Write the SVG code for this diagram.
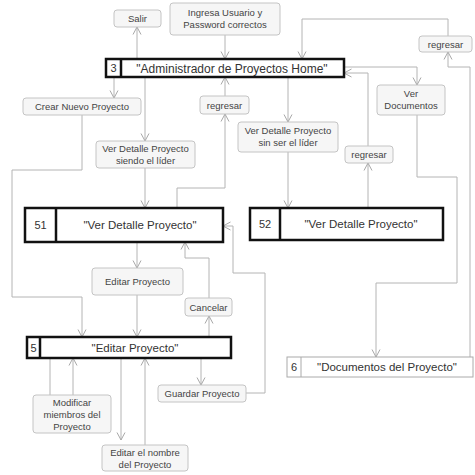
<svg xmlns="http://www.w3.org/2000/svg" width="475" height="475" viewBox="0 0 475 475">
<defs>
<marker id="ar" markerWidth="10" markerHeight="10" refX="9" refY="5" orient="auto" markerUnits="userSpaceOnUse">
<path d="M1.5,1 L9,5 L1.5,9" fill="none" stroke="#a8a8a8" stroke-width="1"/>
</marker>
<style>
.c{fill:none;stroke:#b4b4b4;stroke-width:1}
.c.a{marker-end:url(#ar)}
.act{fill:#f6f6f6;stroke:#c4c4c4;stroke-width:1}
.at{font-family:"Liberation Sans",Arial,sans-serif;font-size:9.5px;fill:#444;text-anchor:middle}
.st{fill:#fff;stroke:#111;stroke-width:2.5}
.sd{stroke:#111;stroke-width:2.5}
.nt{font-family:"Liberation Sans",Arial,sans-serif;font-size:11.5px;fill:#333;text-anchor:middle}
.num{font-family:"Liberation Sans",Arial,sans-serif;font-size:11px;fill:#333;text-anchor:middle}
</style>
</defs>
<rect width="475" height="475" fill="#fff"/>
<g id="connectors">
<path class="c a" d="M225,35 V59"/>
<path class="c a" d="M137,59 V27"/>
<path class="c a" d="M114,77 V98"/>
<path class="c a" d="M145,77 V141"/>
<path class="c a" d="M145,168 V208"/>
<path class="c a" d="M177,208 V188 H225 V114"/>
<path class="c a" d="M225,96 V77"/>
<path class="c a" d="M288,77 V122"/>
<path class="c a" d="M288,152 V208"/>
<path class="c a" d="M368,208 V163"/>
<path class="c a" d="M368,146 V73 H344"/>
<path class="c a" d="M344,67 H417 V85"/>
<path class="c a" d="M417,115 V177 H457 V283 H376 V357"/>
<path class="c a" d="M470,357 V67 H448 V52"/>
<path class="c a" d="M448,36 V19 H302 V59"/>
<path class="c a" d="M246,393 H265 V273 H233 V226 H223"/>
<path class="c a" d="M209,298 V258 H185 V242"/>
<path class="c a" d="M209,337 V316"/>
<path class="c a" d="M137,242 V268"/>
<path class="c a" d="M137,295 V337"/>
<path class="c a" d="M82,115 V170 H12 V297 H82 V337"/>
<path class="c" d="M50,358 V395"/>
<path class="c a" d="M73,395 V358"/>
<path class="c a" d="M121,358 V440"/>
<path class="c a" d="M145,445 V358"/>
<path class="c a" d="M201,358 V385"/>
</g>
<g id="salir"><rect class="act" x="114" y="10" width="47" height="17" rx="3"/><text class="at" x="137.5" y="22">Salir</text></g>
<g id="ingresa"><rect class="act" x="170" y="3" width="110" height="32" rx="3"/><text class="at" x="225" y="16">Ingresa Usuario y</text><text class="at" x="225" y="28">Password correctos</text></g>
<g id="regresar1"><rect class="act" x="419" y="36" width="53" height="16" rx="3"/><text class="at" x="445.5" y="47.5">regresar</text></g>
<g id="node3"><rect class="st" x="106" y="59" width="238" height="18"/><line class="sd" x1="121" y1="59" x2="121" y2="77"/><text class="num" x="113.5" y="72">3</text><text class="nt" x="232" y="72.5" style="font-size:12px">"Administrador de Proyectos Home"</text></g>
<g id="crear"><rect class="act" x="23" y="98" width="118" height="17" rx="3"/><text class="at" x="82" y="110">Crear Nuevo Proyecto</text></g>
<g id="regresar2"><rect class="act" x="200" y="96" width="49" height="18" rx="3"/><text class="at" x="224.5" y="108.5">regresar</text></g>
<g id="verdocs"><rect class="act" x="377" y="85" width="68" height="30" rx="3"/><text class="at" x="411" y="97">Ver</text><text class="at" x="411" y="109">Documentos</text></g>
<g id="verlider"><rect class="act" x="96" y="141" width="99" height="27" rx="3"/><text class="at" x="145.5" y="152">Ver Detalle Proyecto</text><text class="at" x="145.5" y="164">siendo el líder</text></g>
<g id="versinlider"><rect class="act" x="238" y="122" width="100" height="30" rx="3"/><text class="at" x="288" y="134">Ver Detalle Proyecto</text><text class="at" x="288" y="146">sin ser el líder</text></g>
<g id="regresar3"><rect class="act" x="345" y="146" width="48" height="17" rx="3"/><text class="at" x="369" y="158">regresar</text></g>
<g id="node51"><rect class="st" x="25" y="208" width="198" height="34"/><line class="sd" x1="56" y1="208" x2="56" y2="242"/><text class="num" x="40.5" y="229">51</text><text class="nt" x="140" y="229">"Ver Detalle Proyecto"</text></g>
<g id="node52"><rect class="st" x="250" y="208" width="193" height="32"/><line class="sd" x1="280" y1="208" x2="280" y2="240"/><text class="num" x="265" y="228">52</text><text class="nt" x="361" y="228">"Ver Detalle Proyecto"</text></g>
<g id="editar"><rect class="act" x="92" y="268" width="91" height="27" rx="3"/><text class="at" x="137.5" y="285">Editar Proyecto</text></g>
<g id="cancelar"><rect class="act" x="185" y="298" width="47" height="18" rx="3"/><text class="at" x="208.5" y="310.5">Cancelar</text></g>
<g id="node5"><rect class="st" x="27" y="337" width="204" height="21"/><line class="sd" x1="40" y1="337" x2="40" y2="358"/><text class="num" x="33.5" y="351.5">5</text><text class="nt" x="135" y="351.5">"Editar Proyecto"</text></g>
<g id="node6"><rect x="287" y="357" width="186" height="20" fill="#fff" stroke="#aaa" stroke-width="1"/><line x1="301" y1="357" x2="301" y2="377" stroke="#aaa"/><text class="num" x="294" y="371">6</text><text class="nt" x="387" y="371">"Documentos del Proyecto"</text></g>
<g id="guardar"><rect class="act" x="158" y="385" width="88" height="17" rx="3"/><text class="at" x="202" y="397">Guardar Proyecto</text></g>
<g id="modificar"><rect class="act" x="33" y="395" width="78" height="38" rx="3"/><text class="at" x="72" y="406">Modificar</text><text class="at" x="72" y="418">miembros del</text><text class="at" x="72" y="430">Proyecto</text></g>
<g id="nombre"><rect class="act" x="102" y="445" width="86" height="26" rx="3"/><text class="at" x="145" y="456">Editar el nombre</text><text class="at" x="145" y="468">del Proyecto</text></g>
</svg>
